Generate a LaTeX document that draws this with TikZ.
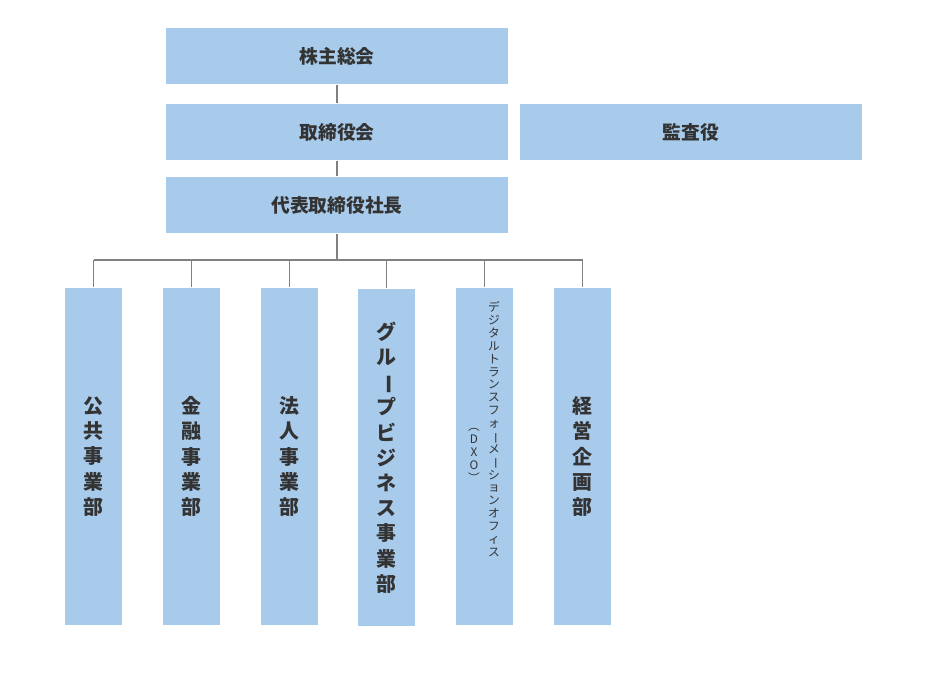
\documentclass[tikz,border=0pt]{standalone}
\usepackage{fontspec}
\setmainfont{Noto Sans CJK JP}
\definecolor{boxblue}{HTML}{A8CAEB}
\definecolor{textgray}{HTML}{333333}
\newcommand{\vbar}{\rotatebox[origin=c]{-90}{ー}}
\begin{document}
\begin{tikzpicture}[x=0.03cm,y=-0.03cm,line width=1pt,draw=black!50]
    \tikzstyle{org}=[fill=boxblue,draw=none,text=textgray,font=\fontsize{16}{18}\selectfont\bfseries,inner sep=0pt]
    \tikzstyle{top}=[org,minimum width=342*0.03cm,minimum height=56*0.03cm]
    \tikzstyle{dept}=[org,minimum width=57*0.03cm,minimum height=337*0.03cm,align=center,font=\fontsize{17}{21.5}\selectfont\bfseries]
    \useasboundingbox (0,0) rectangle (927,677);

    % top boxes
    \node[top] (sh) at (337,56) {株主総会};
    \node[top] (bd) at (337,132) {取締役会};
    \node[top] (au) at (691,132) {監査役};
    \node[top] (ceo) at (337,205) {代表取締役社長};

    % departments
    \node[dept] (D-1) at (93.5,456.5) {公\\共\\事\\業\\部};
    \node[dept] (D-2) at (191.5,456.5) {金\\融\\事\\業\\部};
    \node[dept] (D-3) at (289.5,456.5) {法\\人\\事\\業\\部};
    \node[dept] (D-4) at (386.5,457.5) {グ\\ル\\\vbar\\プ\\ビ\\ジ\\ネ\\ス\\事\\業\\部};
    \node[org,minimum width=57*0.03cm,minimum height=337*0.03cm] (D-5) at (484.5,456.5) {};
    \node[dept] (D-6) at (582.5,456.5) {経\\営\\企\\画\\部};
    \node[align=center,anchor=north,text=textgray,font=\fontsize{10}{11}\selectfont,inner sep=0pt] (dx) at (494,301)
        {デ\\ジ\\タ\\ル\\ト\\ラ\\ン\\ス\\フ\\ォ\\\vbar\\メ\\\vbar\\シ\\ョ\\ン\\オ\\フ\\ィ\\ス};
    \node[align=center,anchor=north,text=textgray,font=\fontsize{10}{11}\selectfont,inner sep=0pt] (dxo) at (474,428)
        {︵\\D\\X\\O\\︶};

    % connectors
    \coordinate (bus) at (337,260);
    \draw (sh) -- (bd);
    \draw (bd) -- (ceo);
    \draw (ceo) -- (bus);
    \draw (94,260) -- (583,260);
    \foreach \i in {1,...,6}
        \draw (D-\i.north |- bus) -- (D-\i.north);
\end{tikzpicture}
\end{document}
